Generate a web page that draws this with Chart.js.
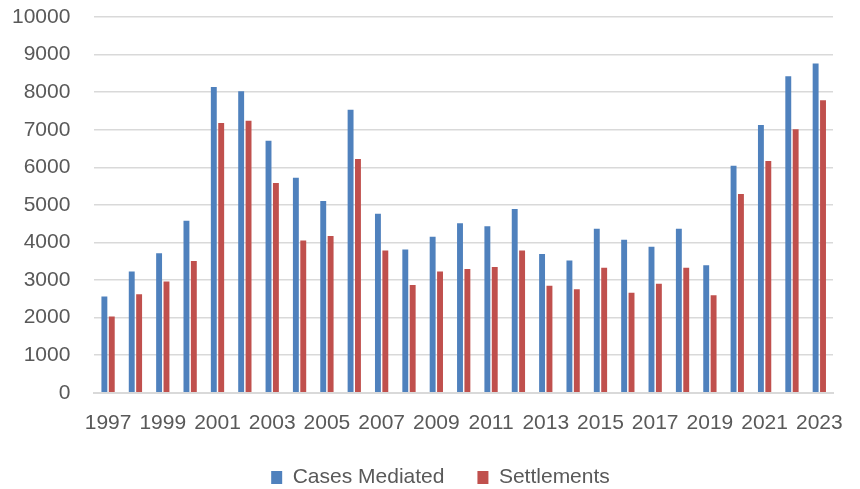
<!DOCTYPE html>
<html>
<head>
<meta charset="utf-8">
<script src="https://cdn.jsdelivr.net/npm/chart.js@4"></script>
<style>
  body { margin: 0; background: #fff; }
</style>
</head>
<body>
<canvas id="mediation_chart" width="860" height="489"></canvas>
<script>
// Роки
const years = ['1997', '1998', '1999', '2000', '2001', '2002', '2003', '2004', '2005',
    '2006', '2007', '2008', '2009', '2010', '2011', '2012', '2013', '2014',
    '2015', '2016', '2017', '2018', '2019', '2020', '2021', '2022', '2023'];

const cases_mediated = [2565, 3225, 3715, 4580, 8140, 8025, 6710, 5720, 5105,
    7535, 4765, 3815, 4150, 4510, 4435, 4890, 3695, 3520,
    4365, 4070, 3885, 4365, 3395, 6040, 7125, 8425, 8765];

const settlements = [2030, 2620, 2960, 3510, 7180, 7240, 5585, 4055, 4170,
    6220, 3785, 2870, 3225, 3295, 3350, 3785, 2850, 2755,
    3325, 2665, 2905, 3330, 2595, 5290, 6165, 7010, 7785];

const font_family = "'Liberation Sans', Arial, sans-serif";
const text_color = '#595959';
const grid_color = '#d9d9d9';

// легенда в оригіналі трохи правіше центру
const legend_shift = {
    id: 'legend_shift',
    afterLayout: function(chart) {
        chart.legend.left += 18;
        chart.legend.right += 18;
    }
};

if (document.getElementById('mediation_chart')){
let mediation_chart = new Chart(document.getElementById('mediation_chart').getContext('2d'), {
    type: 'bar',
    data: {
        labels: years,
        datasets: [{
            label: 'Cases Mediated',
            data: cases_mediated,
            backgroundColor: '#4f81bd',
            borderWidth: 0,
            categoryPercentage: 0.54,
            barPercentage: 0.8
        }, {
            label: 'Settlements',
            data: settlements,
            backgroundColor: '#c0504d',
            borderWidth: 0,
            categoryPercentage: 0.54,
            barPercentage: 0.8
        }]
    },
    options: {
        responsive: false,
        animation: false,
        layout: {
            padding: { top: 17, right: 27, left: 12, bottom: -9 }
        },
        plugins: {
            legend: {
                position: 'bottom',
                labels: {
                    color: text_color,
                    font: { family: font_family, size: 21 },
                    boxWidth: 11,
                    boxHeight: 13,
                    padding: 33
                }
            },
            tooltip: { enabled: false }
        },
        scales: {
            x: {
                grid: { display: false },
                border: { color: grid_color, width: 2 },
                ticks: {
                    color: text_color,
                    font: { family: font_family, size: 21 },
                    autoSkip: false,
                    maxRotation: 0,
                    padding: 10,
                    callback: function(value, index) {
                        return index % 2 === 0 ? this.getLabelForValue(value) : '';
                    }
                },
                // легенда ближче до підписів
                afterFit: function(scale) {
                    scale.height -= 12;
                }
            },
            y: {
                min: 0,
                max: 10000,
                // прозорі риски замість відступу, щоб не зсувати верх
                grid: { color: grid_color, lineWidth: 1.5, drawTicks: true, tickLength: 24, tickColor: 'rgba(0,0,0,0)' },
                border: { display: false },
                ticks: {
                    stepSize: 1000,
                    color: text_color,
                    font: { family: font_family, size: 21 },
                    padding: 0,
                    callback: function(value) {
                        return String(value);
                    }
                }
            }
        }
    },
    plugins: [legend_shift]
});
}
</script>
</body>
</html>
